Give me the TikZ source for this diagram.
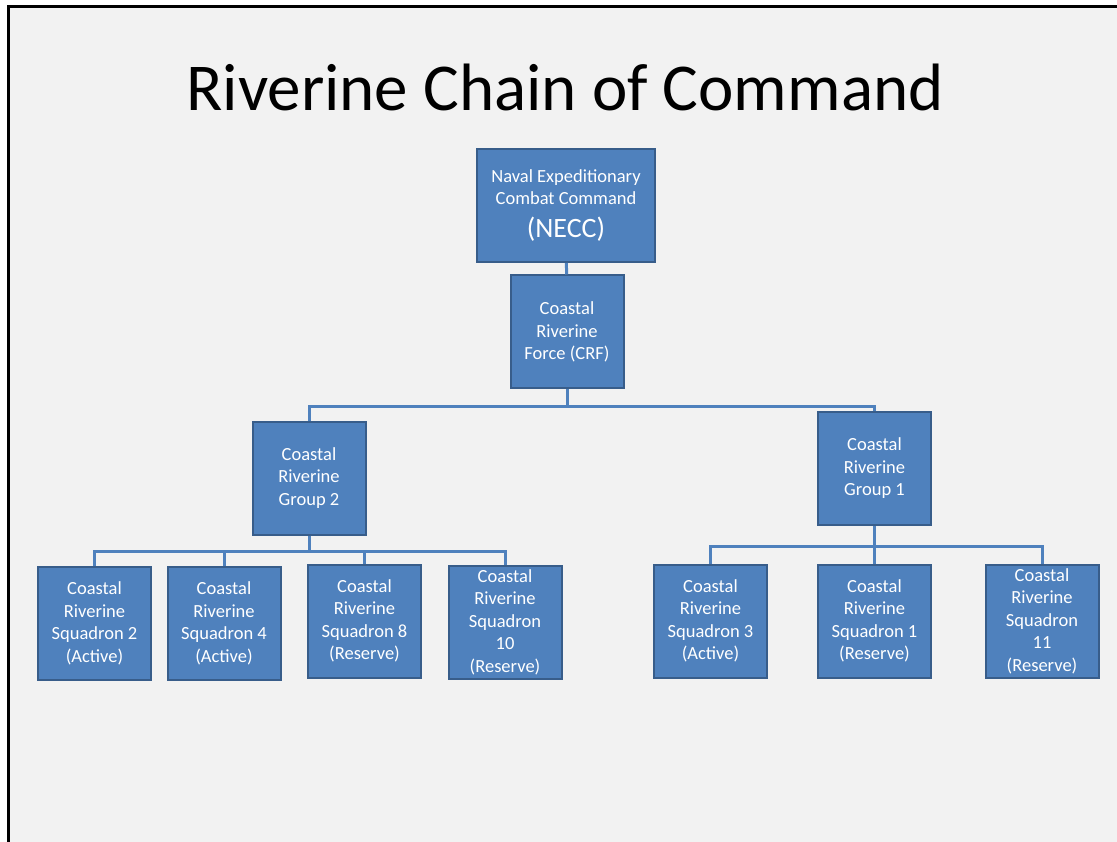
\documentclass[tikz,border=0pt]{standalone}
\usepackage{fontspec}
\setmainfont{Carlito}
\usepackage{tikz}
\usetikzlibrary{positioning}

\definecolor{unitfill}{HTML}{4F81BD}
\definecolor{unitdraw}{HTML}{385D8A}
\definecolor{slide}{HTML}{F2F2F2}

\begin{document}
\begin{tikzpicture}[x=1pt,y=-1pt]
        \tikzstyle{unit}=[rectangle,fill=unitfill,draw=unitdraw,line width=2pt,
            minimum width=113pt,minimum height=113pt,inner sep=1pt,align=center,
            text=white,font=\fontsize{18.5}{22.5}\selectfont]
        \tikzstyle{link}=[draw=unitfill,line width=3pt]
            % slide frame
            \useasboundingbox (0,0) rectangle (1117,842);
            \fill[white] (0,0) rectangle (1117,842);
            \fill[slide] (9,7) rectangle (1117,842);
            \draw[line width=2.6pt] (8.7,842) -- (8.7,6.7) -- (1117,6.7);

            \node[anchor=base,font=\fontsize{67}{80}\selectfont] (title) at (565,111)
                {Riverine Chain of Command};

            \node[unit,minimum width=178pt] (necc) at (566,205.5)
                {Naval Expeditionary\\Combat Command\\[10pt]{\fontsize{28}{30}\selectfont (NECC)}};
            \node[unit] (crf) at (567,332) {Coastal\\Riverine\\Force (CRF)};

            \node[unit] (grptwo) at (309,478) {Coastal\\Riverine\\Group 2};
            \node[unit] (grpone) at (874.5,468.5) {Coastal\\Riverine\\Group 1};

            \node[unit] (sqtwo) at (94.5,623.5) {Coastal\\Riverine\\Squadron 2\\(Active)};
            \node[unit] (sqfour) at (224,623.5) {Coastal\\Riverine\\Squadron 4\\(Active)};
            \node[unit] (sqeight) at (364.5,621) {Coastal\\Riverine\\Squadron 8\\(Reserve)};
            \node[unit] (sqten) at (505,622) {Coastal\\Riverine\\Squadron\\10\\(Reserve)};

            \node[unit] (sqthree) at (710.5,621) {Coastal\\Riverine\\Squadron 3\\(Active)};
            \node[unit] (sqone) at (874.5,621) {Coastal\\Riverine\\Squadron 1\\(Reserve)};
            \node[unit] (sqeleven) at (1042,621) {Coastal\\Riverine\\Squadron\\11\\(Reserve)};

            % chain links
            \draw[link] (necc) -- (crf);
            \draw[link] (crf.south) -- ++(0,17) -| (grptwo.north);
            \draw[link] (crf.south) -- ++(0,17) -| (grpone.north);

            \foreach \sq in {sqtwo,sqfour,sqeight,sqten}
                \draw[link] (grptwo.south) -- ++(0,16) -| (\sq.north);
            \foreach \sq in {sqthree,sqone,sqeleven}
                \draw[link] (grpone.south) -- ++(0,20) -| (\sq.north);
        \end{tikzpicture}
\end{document}
